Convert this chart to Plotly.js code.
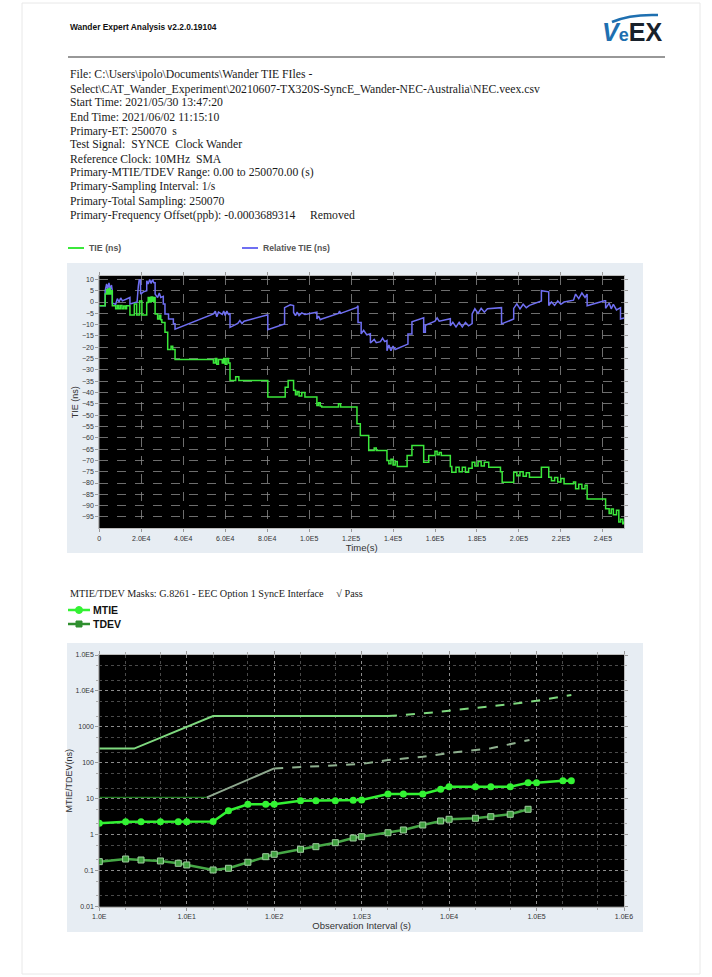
<!DOCTYPE html>
<html><head><meta charset="utf-8">
<script src="https://cdn.plot.ly/plotly-3.0.1.min.js"></script>
<style>html,body{margin:0;padding:0;background:#fff}#chart{width:712px;height:977px}</style>
</head><body><div id="chart"></div>
<script>
// ---------- TIE chart data (time in s, values in ns) ----------
const tieTime = [0,2800,3500,4000,4600,5200,5800,6200,7800,8600,9200,10000,10800,11600,12400,13000,14600,16700,17800,19200,20300,22600,23300,24000,24700,25400,26000,26600,27800,28600,29300,29800,31300,32600,34200,35000,36100,54400,55300,56000,56800,58600,59300,60000,60800,61600,62300,65000,66500,80300,88600,90000,92600,93500,94300,95200,96500,98000,103700,104500,105300,106000,114000,115000,122800,124400,128400,131000,132000,137100,138000,139000,140000,141000,142000,146700,149000,154600,157000,160000,161000,162000,163000,167300,168000,170000,171500,173000,174500,176000,177700,179000,180500,182000,183500,185600,191200,192000,197500,199000,200500,202000,203500,205000,210700,214200,215500,217000,218500,220000,221500,226000,227000,228500,230000,231500,232500,241300,243000,244000,245000,246500,247600,248500,249500,250070];
const tieValues = [-1.6,3.5,5.5,3.5,6,3.5,5,-1.6,-3.0,-1.5,-3,-1.5,-3,-1.8,-3,-1.6,-5.7,-0.9,-5.7,0.5,-5.7,-0.2,2,0,2.2,0.3,2,-5.3,-7.5,-5.8,-7.8,-9,-13.4,-21,-19.5,-21,-25.4,-27,-25,-27.5,-25.4,-27,-25,-27.5,-25,-27,-34.7,-33,-34.7,-42,-37.7,-34.7,-39,-41,-39.5,-41.5,-40,-42,-45.7,-44.5,-46,-46.4,-45,-46.4,-53.8,-59,-65.6,-64.5,-65.6,-70,-71.5,-69.5,-72,-70.5,-72.7,-67.8,-63.4,-70.8,-67.8,-66,-67.5,-66.5,-67.8,-72.7,-75.2,-73,-75,-73,-75.2,-73.5,-70.8,-72.5,-70.5,-72.5,-70.8,-73,-75,-79.6,-75.2,-76.8,-75,-77,-75.5,-77.4,-73,-77.4,-79,-77.5,-79.5,-78,-80.3,-79.5,-82.5,-80.5,-82.5,-81,-87,-91.4,-93.5,-91.5,-94,-92,-97.2,-96,-98,-97];

const relTime = [0,2800,2800,3500,4000,4600,5200,5800,6200,6200,7800,8600,9400,10200,11000,13900,14600,14600,18000,18600,19000,19600,19700,21000,22600,22600,23300,24000,24700,25400,26000,26600,26600,27800,28600,29300,30500,30500,31300,31300,33000,33000,35300,35300,36100,36100,54400,55300,56000,56800,58600,59300,60000,60800,61600,62300,62300,66000,67000,68000,69000,79900,80300,80300,87800,88300,88300,90000,91000,92600,92600,93500,94300,95200,96500,98000,103700,103700,104500,105300,106000,114000,114500,115000,122800,123300,123300,124800,124800,126000,127500,129200,129200,131000,132000,134000,135000,136000,137100,137100,138000,139000,140000,141000,146700,147100,147100,149000,149000,154600,154600,155400,155400,160000,161000,162000,167300,167300,168500,170000,171500,173000,174500,176000,177700,177700,179000,180500,182000,183500,185000,191700,191700,197500,197500,199000,200500,202000,203500,205000,210700,210700,214200,214200,215500,217000,218500,220000,221500,226000,227000,228500,230000,231500,232500,232500,240800,241300,241300,243000,244000,245000,246500,248400,248400,250070];
const relValues = [-1.6,-1.6,5,8,5.5,8.5,5.5,7.5,5,-0.5,-1,1.5,0,1.8,0.5,2,2,-0.9,0,7,9.7,9.7,3.5,4.5,5,9.4,8,10,8.2,10,8.5,8.5,3.5,2,4,2,2.5,-0.9,-0.9,-5.3,-5.3,-7.5,-7.5,-9.6,-9.6,-12,-5.3,-4,-6.5,-4.5,-5.5,-4,-6,-4,-5.5,-5,-11.2,-9.5,-8.2,-9.5,-8.5,-5.7,-5.7,-12.2,-9.7,-9.7,-2.5,-1.6,-1.2,-1.6,-4.6,-6,-4.5,-6,-4.8,-5.5,-4.5,-7.5,-6.2,-7.8,-7.5,-5,-4,-5,-2.4,-1.6,-9,-9,-14.1,-12.5,-14.5,-14,-18.1,-16.5,-18,-17.5,-16,-17.5,-17,-21.5,-19,-21.5,-19.5,-21,-18.6,-18.6,-14.1,-14.1,-8.7,-7,-13.4,-13.4,-10.3,-8.5,-7,-8.5,-7.4,-10.5,-9,-11,-9,-11,-9,-10.5,-9.5,-5.3,-3,-5,-2.8,-4.5,-3,-2.5,-9.7,-7.5,-2.8,-0.8,-3,-1,-2.5,-1.5,0.5,5,4.5,-1.5,0,-1.5,0.5,-1,0,0.8,3.5,1.5,4,2,3.5,-1.6,0.6,0.6,-2.8,-0.5,-3,-1,-3.5,-2.5,-7.5,-7];

const tieTickVals = [0,20000,40000,60000,80000,100000,120000,140000,160000,180000,200000,220000,240000];
const tieTickText = ['0','2.0E4','4.0E4','6.0E4','8.0E4','1.0E5','1.2E5','1.4E5','1.6E5','1.8E5','2.0E5','2.2E5','2.4E5'];
const tieYTicks = [10,5,0,-5,-10,-15,-20,-25,-30,-35,-40,-45,-50,-55,-60,-65,-70,-75,-80,-85,-90,-95];

// ---------- MTIE / TDEV data (tau in s, values in ns) ----------
const mtieTau = [1,2,3,5,8,10,20,30,50,80,100,200,300,500,800,1000,2000,3000,5000,8000,10000,20000,30000,50000,80000,100000,200000,250000];
const mtieValues = [2.09,2.31,2.31,2.31,2.31,2.31,2.35,4.68,7.05,7.05,7.05,8.87,8.87,8.87,9.1,9.3,13.6,13.6,13.6,18.4,21.8,21.8,21.8,21.8,28.1,28.1,31.9,31.9];
const tdevTau = [1,2,3,5,8,10,20,30,50,80,100,200,300,500,800,1000,2000,3000,5000,8000,10000,20000,30000,50000,80000];
const tdevValues = [0.179,0.212,0.199,0.187,0.161,0.145,0.105,0.117,0.172,0.246,0.287,0.395,0.467,0.603,0.814,0.885,1.14,1.36,1.87,2.42,2.70,2.88,3.19,3.72,5.12];

const mtieMaskTau = [1,2.5,20,2000];
const mtieMaskValues = [250,250,2000,2000];
const mtieMaskExtTau = [2000,5000,10000,20000,50000,100000,200000,250000];
const mtieMaskExtValues = [2000,2370,2830,3340,4270,5330,6980,7700];
const tdevMaskFlatTau = [1,17];
const tdevMaskFlatValues = [11,11];
const tdevMaskRiseTau = [17,100];
const tdevMaskRiseValues = [11,70];
const tdevMaskExtTau = [100,300,1000,2000,5000,10000,30000,83000];
const tdevMaskExtValues = [70,80,93,120,148,188,254,433];

const logXTickVals = [1,10,100,1000,10000,100000,1000000];
const logXTickText = ['1.0E','1.0E1','1.0E2','1.0E3','1.0E4','1.0E5','1.0E6'];
const logYTickVals = [0.01,0.1,1,10,100,1000,10000,100000];
const logYTickText = ['0.01','0.1','1','10','100','1000','1.0E4','1.0E5'];

const headerText = 'Wander Expert Analysis v2.2.0.19104';
const infoLines = [
 'File: C:\\Users\\ipolo\\Documents\\Wander TIE FIles -',
 'Select\\CAT_Wander_Experiment\\20210607-TX320S-SyncE_Wander-NEC-Australia\\NEC.veex.csv',
 'Start Time: 2021/05/30 13:47:20',
 'End Time: 2021/06/02 11:15:10',
 'Primary-ET: 250070\u00a0 s',
 'Test Signal:\u00a0 SYNCE\u00a0 Clock Wander',
 'Reference Clock: 10MHz\u00a0 SMA',
 'Primary-MTIE/TDEV Range: 0.00 to 250070.00 (s)',
 'Primary-Sampling Interval: 1/s',
 'Primary-Total Sampling: 250070',
 'Primary-Frequency Offset(ppb): -0.0003689314\u00a0\u00a0\u00a0\u00a0\u00a0Removed'
];
const maskText = 'MTIE/TDEV Masks: G.8261 - EEC Option 1 SyncE Interface\u00a0\u00a0\u00a0\u00a0\u00a0\u221a Pass';

// ---------- layout helpers ----------
const W = 712, H = 977;
const X = p => p / W;
const Y = p => 1 - p / H;
const SANS = 'Liberation Sans, Arial, sans-serif';
const SERIF = 'Liberation Serif, Times New Roman, serif';

const green = '#3be83b';
const blue = '#6f6ff2';
const mtieColor = '#33f233';
const tdevColor = '#46a846';

const traces = [
  {x: relTime, y: relValues, type:'scatter', mode:'lines', line:{color:blue, width:1.5}, xaxis:'x', yaxis:'y', hoverinfo:'skip'},
  {x: tieTime, y: tieValues, type:'scatter', mode:'lines', line:{color:green, width:1.5, shape:'hv'}, xaxis:'x', yaxis:'y', hoverinfo:'skip'},
  {x: tdevMaskFlatTau, y: tdevMaskFlatValues, mode:'lines', line:{color:'#1f7a1f', width:1.2}, xaxis:'x2', yaxis:'y2'},
  {x: tdevMaskRiseTau, y: tdevMaskRiseValues, mode:'lines', line:{color:'#8fa98f', width:2}, xaxis:'x2', yaxis:'y2'},
  {x: tdevMaskExtTau, y: tdevMaskExtValues, mode:'lines', line:{color:'#8fb08f', width:2, dash:'dash'}, xaxis:'x2', yaxis:'y2'},
  {x: mtieMaskTau, y: mtieMaskValues, mode:'lines', line:{color:'#7fd97f', width:2}, xaxis:'x2', yaxis:'y2'},
  {x: mtieMaskExtTau, y: mtieMaskExtValues, mode:'lines', line:{color:'#7fd97f', width:2, dash:'dash'}, xaxis:'x2', yaxis:'y2'},
  {x: tdevTau, y: tdevValues, mode:'lines+markers', line:{color:tdevColor, width:2.5}, marker:{symbol:'square', size:6, color:'#3f9f3f', line:{color:'#9fcf9f', width:1}}, xaxis:'x2', yaxis:'y2'},
  {x: mtieTau, y: mtieValues, mode:'lines+markers', line:{color:mtieColor, width:2.5}, marker:{symbol:'circle', size:7, color:mtieColor}, xaxis:'x2', yaxis:'y2'}
];

const topDomX = [X(99.3), X(624)];
const topDomY = [Y(528.3), Y(276)];
const botDomY = [Y(906.7), Y(655)];

const tickFont = {family:SANS, size:7, color:'#333'};

const layout = {
  width: W, height: H,
  margin: {l:0, r:0, t:0, b:0},
  paper_bgcolor: '#ffffff',
  plot_bgcolor: 'rgba(0,0,0,0)',
  showlegend: false,
  xaxis: {domain: topDomX, anchor:'y', range:[0,250070], tickmode:'array', tickvals:tieTickVals, ticktext:tieTickText,
    tickfont:tickFont, ticks:'outside', ticklen:3, tickcolor:'#999', showgrid:true, gridcolor:'#8a8a8a', griddash:'dash', gridwidth:0.8,
    zeroline:false, showline:true, linecolor:'#bbb', mirror:'ticks',
    title:{text:'Time(s)', font:{family:SANS, size:9.5, color:'#333'}, standoff:2}},
  yaxis: {domain: topDomY, anchor:'x', range:[-100,11.5], tickmode:'array', tickvals:tieYTicks,
    tickfont:tickFont, ticks:'outside', ticklen:3, tickcolor:'#999', showgrid:true, gridcolor:'#8a8a8a', griddash:'dash', gridwidth:0.8,
    zeroline:false, showline:true, linecolor:'#bbb', mirror:'ticks',
    title:{text:'TIE (ns)', font:{family:SANS, size:9, color:'#333'}, standoff:1}},
  xaxis2: {domain: topDomX, anchor:'y2', type:'log', range:[0,6], tickmode:'array', tickvals:logXTickVals, ticktext:logXTickText,
    tickfont:tickFont, ticks:'outside', ticklen:3, tickcolor:'#999', showgrid:true, gridcolor:'#8c8c8c', griddash:'dot', gridwidth:1,
    minor:{ticks:'outside', ticklen:2, tickcolor:'#aaa', showgrid:true, gridcolor:'#4a4a4a', griddash:'dot', gridwidth:1},
    zeroline:false, showline:true, linecolor:'#bbb', mirror:'ticks',
    title:{text:'Observation Interval (s)', font:{family:SANS, size:9.5, color:'#333'}, standoff:2}},
  yaxis2: {domain: botDomY, anchor:'x2', type:'log', range:[-2,5], tickmode:'array', tickvals:logYTickVals, ticktext:logYTickText,
    tickfont:tickFont, ticks:'outside', ticklen:3, tickcolor:'#999', showgrid:true, gridcolor:'#8c8c8c', griddash:'dot', gridwidth:1,
    minor:{ticks:'outside', ticklen:2, tickcolor:'#aaa', showgrid:true, gridcolor:'#4a4a4a', griddash:'dot', gridwidth:1},
    zeroline:false, showline:true, linecolor:'#bbb', mirror:'ticks',
    title:{text:'MTIE/TDEV(ns)', font:{family:SANS, size:9, color:'#333'}, standoff:1}},
  shapes: [
    {type:'rect', xref:'paper', yref:'paper', x0:X(22), x1:X(700), y0:Y(974), y1:Y(3), line:{color:'#e8e8e8', width:1}, fillcolor:'rgba(0,0,0,0)', layer:'below'},
    {type:'line', xref:'paper', yref:'paper', x0:X(68), x1:X(665), y0:Y(57), y1:Y(57), line:{color:'#333', width:1.2}},
    {type:'rect', xref:'paper', yref:'paper', x0:X(67), x1:X(643), y0:Y(553), y1:Y(263), line:{width:0}, fillcolor:'#e7edf3', layer:'below'},
    {type:'rect', xref:'x domain', yref:'y domain', x0:0, x1:1, y0:0, y1:1, line:{width:0}, fillcolor:'#000', layer:'below'},
    {type:'rect', xref:'paper', yref:'paper', x0:X(67), x1:X(643), y0:Y(932), y1:Y(643), line:{width:0}, fillcolor:'#e7edf3', layer:'below'},
    {type:'rect', xref:'x2 domain', yref:'y2 domain', x0:0, x1:1, y0:0, y1:1, line:{width:0}, fillcolor:'#000', layer:'below'},
    // top legend
    {type:'line', xref:'paper', yref:'paper', x0:X(68), x1:X(84), y0:Y(248), y1:Y(248), line:{color:green, width:2}},
    {type:'line', xref:'paper', yref:'paper', x0:X(242), x1:X(258), y0:Y(248), y1:Y(248), line:{color:blue, width:2}},
    // bottom legend
    {type:'line', xref:'paper', yref:'paper', x0:X(68), x1:X(90), y0:Y(610), y1:Y(610), line:{color:mtieColor, width:2.5}},
    {type:'circle', xref:'paper', yref:'paper', x0:X(75.5), x1:X(82.5), y0:Y(613.5), y1:Y(606.5), line:{color:mtieColor, width:1}, fillcolor:mtieColor},
    {type:'line', xref:'paper', yref:'paper', x0:X(68), x1:X(90), y0:Y(624), y1:Y(624), line:{color:'#2f8f2f', width:2.5}},
    {type:'rect', xref:'paper', yref:'paper', x0:X(76), x1:X(82), y0:Y(627), y1:Y(621), line:{color:'#2f8f2f', width:1}, fillcolor:'#2f8f2f'},
    // logo swoosh
    {type:'path', xref:'paper', yref:'paper', path:`M ${X(612)} ${Y(22)} Q ${X(630)} ${Y(14)} ${X(658)} ${Y(15)}`, line:{color:'#1e6fb0', width:2.5}}
  ],
  annotations: []
};

const A = layout.annotations;
A.push({xref:'paper', yref:'paper', x:X(68), y:Y(27), xanchor:'left', yanchor:'middle', showarrow:false,
  text:'<b>'+headerText+'</b>', font:{family:SANS, size:8.4, color:'#111'}});
A.push({xref:'paper', yref:'paper', x:X(632), y:Y(32), xanchor:'center', yanchor:'middle', showarrow:false,
  text:'<b><i><span style="color:#1e6fb0">V</span></i><span style="color:#1e6fb0;font-size:18px">e</span><span style="color:#18212b">EX</span></b>',
  font:{family:SANS, size:25, color:'#18212b'}});
infoLines.forEach((t,i) => A.push({xref:'paper', yref:'paper', x:X(68), y:Y(75 + i*14), xanchor:'left', yanchor:'middle', showarrow:false,
  text:t, font:{family:SERIF, size:11.7, color:'#1a1a1a'}}));
A.push({xref:'paper', yref:'paper', x:X(87), y:Y(248), xanchor:'left', yanchor:'middle', showarrow:false,
  text:'<b>TIE (ns)</b>', font:{family:SANS, size:8.8, color:'#555'}});
A.push({xref:'paper', yref:'paper', x:X(261), y:Y(248), xanchor:'left', yanchor:'middle', showarrow:false,
  text:'<b>Relative TIE (ns)</b>', font:{family:SANS, size:8.6, color:'#555'}});
A.push({xref:'paper', yref:'paper', x:X(68), y:Y(593), xanchor:'left', yanchor:'middle', showarrow:false,
  text:maskText, font:{family:SERIF, size:10.2, color:'#1a1a1a'}});
A.push({xref:'paper', yref:'paper', x:X(91), y:Y(610), xanchor:'left', yanchor:'middle', showarrow:false,
  text:'<b>MTIE</b>', font:{family:SANS, size:10.5, color:'#111'}});
A.push({xref:'paper', yref:'paper', x:X(91), y:Y(624), xanchor:'left', yanchor:'middle', showarrow:false,
  text:'<b>TDEV</b>', font:{family:SANS, size:10.5, color:'#111'}});

Plotly.newPlot('chart', traces, layout, {staticPlot:true, displayModeBar:false});
</script>
</body></html>
